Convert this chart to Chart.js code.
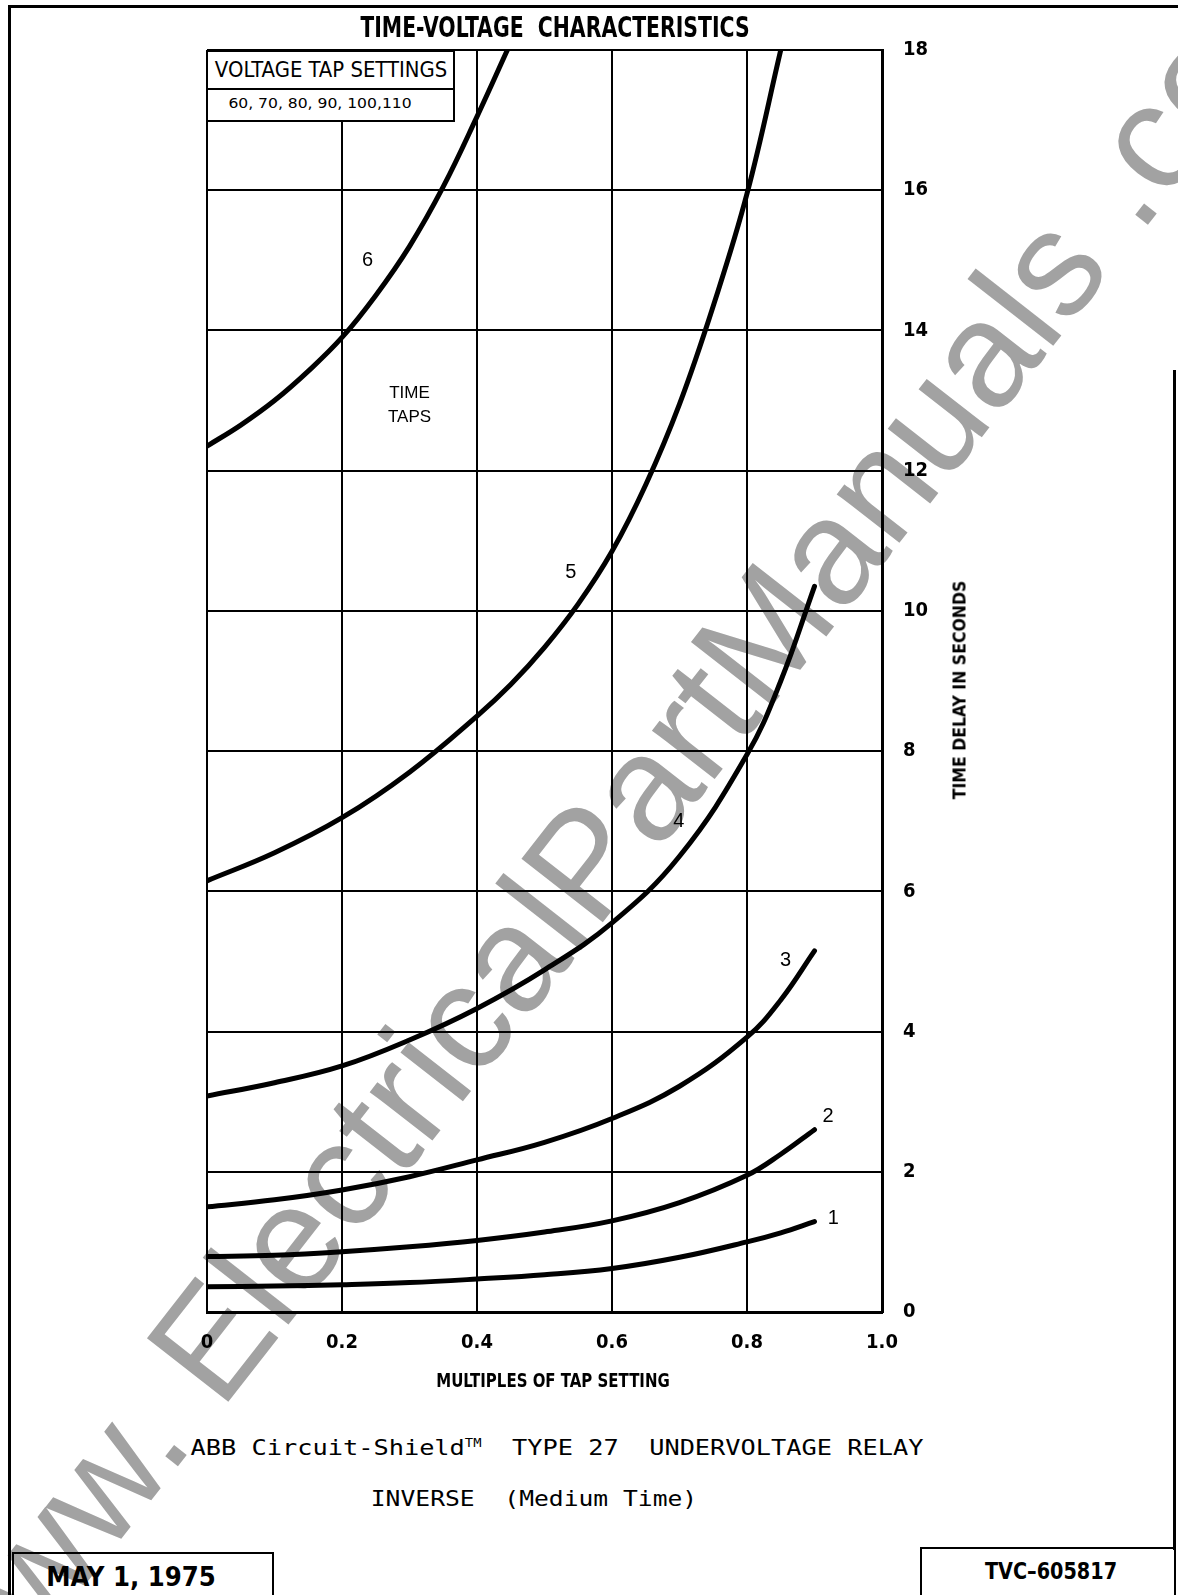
<!DOCTYPE html>
<html>
<head>
<meta charset="utf-8">
<script src="https://cdn.jsdelivr.net/npm/chart.js@4/dist/chart.umd.min.js"></script>
<style>
  html, body { margin: 0; padding: 0; background: #fff; }
  body { width: 1178px; height: 1595px; position: relative; overflow: hidden; }
  .abs { position: absolute; }
  .txt { position: absolute; white-space: pre; line-height: 1; transform-origin: center center; color: #000; z-index: 3; }
  .narrow { font-family: 'Liberation Sans Narrow', 'DejaVu Sans Condensed', sans-serif; font-weight: bold; }
  .mono { font-family: 'DejaVu Sans Mono', 'Liberation Mono', monospace; }
  #chart { position: absolute; left: 0; top: 0; z-index: 1; }
  #watermark { position: absolute; z-index: 0; font-family: 'Liberation Sans', Arial, sans-serif;
               font-size: 150px; color: #a2a2a2; white-space: pre; line-height: 1; }
  .box { position: absolute; border: 2px solid #000; box-sizing: border-box; z-index: 2; }
</style>
</head>
<body>
<div id="watermark">www. ElectricalPartManuals .com</div>

<!-- cadre de la page -->
<div class="abs" style="left:8px;top:5px;width:1170px;height:3px;background:#000"></div>
<div class="abs" style="left:8px;top:5px;width:3px;height:1590px;background:#000"></div>
<div class="abs" style="left:1173px;top:370px;width:3px;height:1180px;background:#000"></div>

<canvas id="chart" width="1178" height="1420" style="width:1178px;height:1420px"></canvas>

<!-- encadré des prises de tension -->
<div class="box" style="left:206px;top:50px;width:249px;height:72px;background:#fff"></div>
<div class="abs" style="left:206px;top:88px;width:249px;height:2px;background:#000;z-index:2"></div>

<div class="box" style="left:12px;top:1552px;width:262px;height:60px"></div>
<div class="box" style="left:920px;top:1547px;width:256px;height:60px"></div>

<div class="txt narrow" data-cx="555" data-cy="28" data-w="389" style="font-size:28px">TIME-VOLTAGE  CHARACTERISTICS</div>
<div class="txt narrow" data-cx="331" data-cy="70" data-w="232" style="font-size:21px;font-weight:normal">VOLTAGE TAP SETTINGS</div>
<div class="txt narrow" data-cx="320" data-cy="103" data-w="183" style="font-size:14px;font-weight:normal">60, 70, 80, 90, 100,110</div>
<div class="txt narrow" data-cx="553" data-cy="1380" data-w="234" style="font-size:19px">MULTIPLES OF TAP SETTING</div>
<div class="txt narrow" data-cx="960" data-cy="690" data-w="219" data-rot="-90" style="font-size:17px">TIME DELAY IN SECONDS</div>
<div class="txt mono" data-cx="557" data-cy="1448" data-w="733" style="font-size:22px">ABB Circuit-Shield<sup style="font-size:12px">TM</sup>  TYPE 27  UNDERVOLTAGE RELAY</div>
<div class="txt mono" data-cx="534" data-cy="1499" data-w="326" style="font-size:22px">INVERSE  (Medium Time)</div>
<div class="txt narrow" data-cx="131" data-cy="1576" data-w="170" style="font-size:27px">MAY 1, 1975</div>
<div class="txt narrow" data-cx="1051" data-cy="1571" data-w="132" style="font-size:23px">TVC–605817</div>

<script>
// ── Données ──────────────────────────────────────────────────
const tapNames = ['1', '2', '3', '4', '5', '6'];

const mult14 = [0, 0.1, 0.2, 0.3, 0.4, 0.5, 0.6, 0.7, 0.8, 0.85, 0.9];
const time1  = [0.36, 0.37, 0.39, 0.42, 0.47, 0.53, 0.62, 0.78, 1.0, 1.13, 1.29];
const time2  = [0.79, 0.81, 0.86, 0.93, 1.02, 1.14, 1.30, 1.56, 1.95, 2.25, 2.6];
const time3  = [1.5, 1.6, 1.74, 1.93, 2.17, 2.42, 2.76, 3.22, 3.92, 4.45, 5.15];
const time4  = [3.08, 3.27, 3.51, 3.88, 4.33, 4.88, 5.55, 6.5, 7.95, 9.0, 10.35];

const mult5 = [0, 0.1, 0.2, 0.3, 0.4, 0.45, 0.5, 0.55, 0.6, 0.65, 0.7, 0.75, 0.8, 0.85];
const time5 = [6.15, 6.55, 7.05, 7.7, 8.5, 8.95, 9.48, 10.1, 10.85, 11.8, 12.95, 14.35, 15.95, 18.0];

const mult6 = [0, 0.05, 0.1, 0.15, 0.2, 0.25, 0.3, 0.35, 0.4, 0.445];
const time6 = [12.35, 12.65, 13.0, 13.42, 13.9, 14.5, 15.2, 16.05, 17.05, 18.0];

const xTickLabels = ['0', '0.2', '0.4', '0.6', '0.8', '1.0'];
const yTickLabels = ['0', '2', '4', '6', '8', '10', '12', '14', '16', '18'];

// repères des courbes (multiple, temps)
const tapLabelX = [0.928, 0.92, 0.857, 0.699, 0.539, 0.238];
const tapLabelY = [1.34, 2.79, 5.01, 7.0, 10.55, 15.0];
const noteLines = ['TIME', 'TAPS'];
const noteX = 0.30;
const noteY = [13.1, 12.76];

const curves = [
  [mult14, time1], [mult14, time2], [mult14, time3],
  [mult14, time4], [mult5, time5], [mult6, time6]
];

const NARROW = "'Liberation Sans Narrow', 'DejaVu Sans Condensed', sans-serif";

/* ── Étiquettes des courbes ─────────────────────────────────── */
const curveLabels = {
  id: 'curveLabels',
  afterDatasetsDraw(chart) {
    const { ctx, scales: { x, y } } = chart;
    ctx.save();
    ctx.fillStyle = '#000';
    ctx.textAlign = 'center';
    ctx.textBaseline = 'middle';
    ctx.font = "20px 'Liberation Sans', Arial, sans-serif";
    tapNames.forEach((n, i) => {
      ctx.fillText(n, x.getPixelForValue(tapLabelX[i]), y.getPixelForValue(tapLabelY[i]));
    });
    ctx.font = "17px 'Liberation Sans', Arial, sans-serif";
    noteLines.forEach((s, i) => {
      ctx.fillText(s, x.getPixelForValue(noteX), y.getPixelForValue(noteY[i]));
    });
    ctx.restore();
  }
};

new Chart(document.getElementById('chart'), {
  type: 'scatter',
  data: {
    datasets: curves.map(([m, t], i) => ({
      label: tapNames[i],
      data: m.map((v, k) => ({ x: v, y: t[k] })),
      showLine: true,
      borderColor: '#000',
      borderWidth: 5,
      borderCapStyle: 'round',
      pointRadius: 0,
      tension: 0.4
    }))
  },
  options: {
    responsive: false,
    animation: false,
    layout: { padding: { left: 207, top: 50, right: 176, bottom: 48 } },
    plugins: { legend: { display: false }, tooltip: { enabled: false } },
    scales: {
      x: {
        type: 'linear', min: 0, max: 1,
        afterFit: s => { s.height = 60; },
        afterBuildTicks: s => { s.ticks = xTickLabels.map((_, i) => ({ value: i * 0.2 })); },
        grid:   { color: '#000', lineWidth: 2, drawTicks: false },
        border: { color: '#000', width: 3 },
        ticks:  { color: '#000', padding: 19, maxRotation: 0, autoSkip: false,
                  font: { family: NARROW, weight: 'bold', size: 20 },
                  callback: (v, i) => xTickLabels[i] }
      },
      y: {
        type: 'linear', position: 'right', min: 0, max: 18,
        afterFit: s => { s.width = 120; },
        afterBuildTicks: s => { s.ticks = yTickLabels.map(l => ({ value: +l })); },
        grid:   { color: '#000', lineWidth: 2, drawTicks: false },
        border: { color: '#000', width: 3 },
        ticks:  { color: '#000', padding: 21, autoSkip: false,
                  font: { family: NARROW, weight: 'bold', size: 20 },
                  callback: (v, i) => yTickLabels[i] }
      }
    }
  },
  plugins: [curveLabels]
});

/* ── Textes HTML ajustés en largeur ─────────────────────────── */
document.querySelectorAll('.txt').forEach(el => {
  const w = el.offsetWidth;
  const k = (+el.dataset.w) / w;
  const rot = el.dataset.rot ? `rotate(${el.dataset.rot}deg) ` : '';
  el.style.left = el.dataset.cx + 'px';
  el.style.top = el.dataset.cy + 'px';
  el.style.transform = `translate(-50%, -50%) ${rot}scaleX(${k})`;
});

const wm = document.getElementById('watermark');
wm.style.left = '616px';
wm.style.top = '821px';
wm.style.transform = 'translate(-50%, -50%) rotate(-52deg)';
</script>
</body>
</html>
